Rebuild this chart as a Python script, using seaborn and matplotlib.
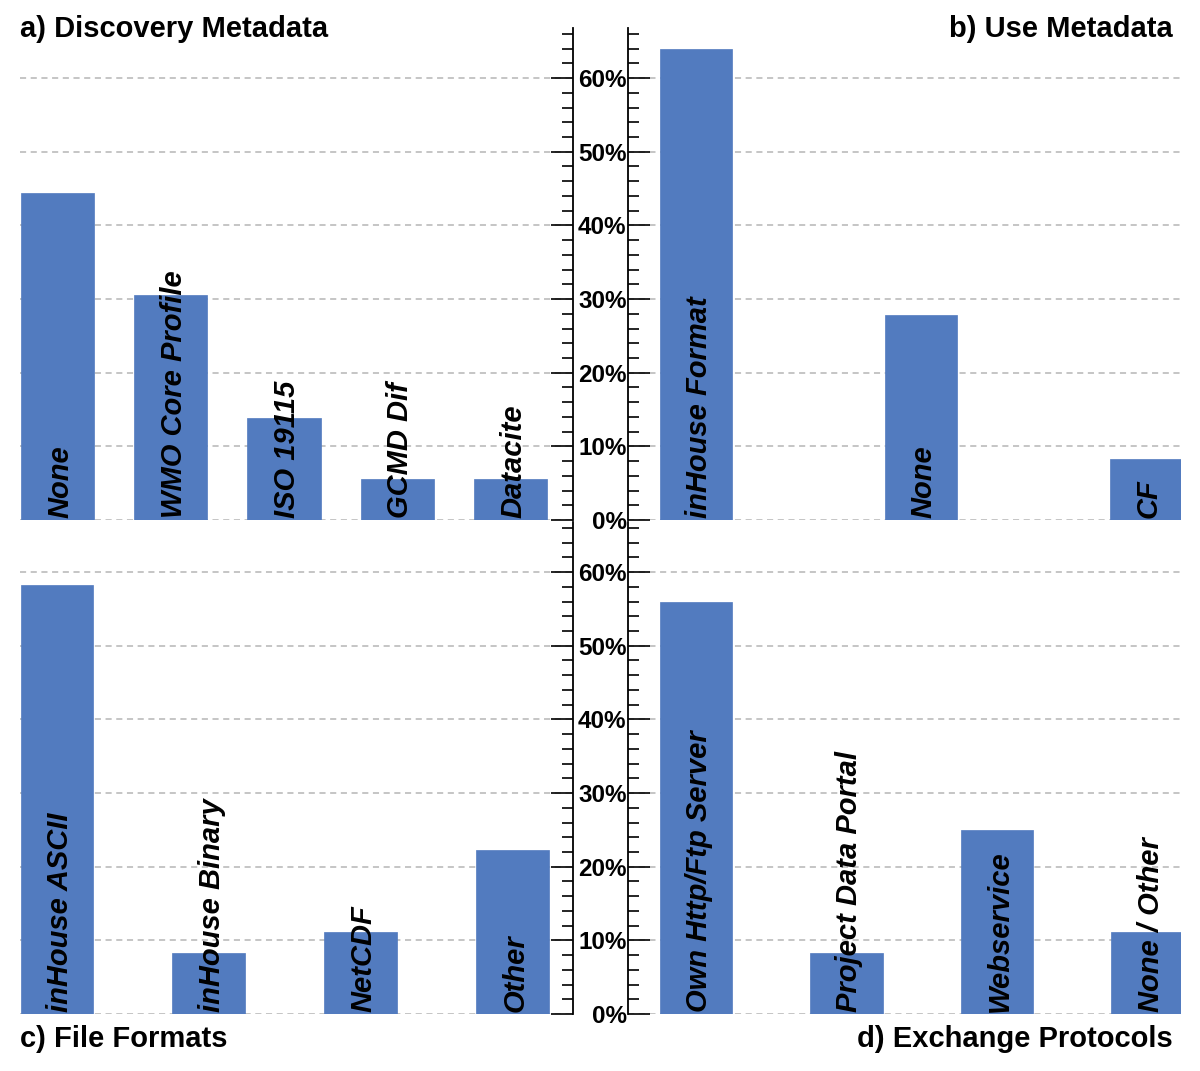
import matplotlib
matplotlib.use('Agg')
import matplotlib.pyplot as plt
import seaborn as sns
from matplotlib.ticker import MultipleLocator, FuncFormatter
from matplotlib.transforms import offset_copy

# data (percent of answers)
disc_cats = ['None', 'WMO Core Profile', 'ISO 19115', 'GCMD Dif', 'Datacite']
disc_vals = [44.4, 30.6, 13.9, 5.6, 5.6]

use_cats = ['inHouse Format', 'None', 'CF']
use_vals = [63.9, 27.8, 8.3]

fmt_cats = ['inHouse ASCII', 'inHouse Binary', 'NetCDF', 'Other']
fmt_vals = [58.3, 8.3, 11.1, 22.2]

exch_cats = ['Own Http/Ftp Server', 'Project Data Portal', 'Webservice', 'None / Other']
exch_vals = [56.0, 8.3, 25.0, 11.1]

sns.set_style('white')
plt.rcParams['font.family'] = ['Liberation Sans', 'DejaVu Sans']
plt.rcParams['text.color'] = 'black'
plt.rcParams['ytick.color'] = 'black'
plt.rcParams['ytick.labelcolor'] = 'black'

BAR = '#527bbf'
W, H = 1200, 1071
fig = plt.figure(figsize=(W / 100, H / 100), dpi=100)


def px_axes(x0, y0, x1, y1):
    return fig.add_axes([x0 / W, 1 - y1 / H, (x1 - x0) / W, (y1 - y0) / H])


ax_a = px_axes(20, 28, 573, 520)
ax_b = px_axes(628, 28, 1181, 520)
ax_c = px_axes(20, 522, 573, 1014)
ax_d = px_axes(628, 522, 1181, 1014)

panels = [
    (ax_a, disc_cats, disc_vals, 0.647, (-0.329, 4.552), 'right'),
    (ax_b, use_cats, use_vals, 0.32, (-0.302, 2.156), 'left'),
    (ax_c, fmt_cats, fmt_vals, 0.48, (-0.244, 3.40), 'right'),
    (ax_d, exch_cats, exch_vals, 0.481, (-0.450, 3.222), 'left'),
]

for ax, cats, vals, w, xl, side in panels:
    sns.barplot(x=cats, y=vals, color=BAR, width=w, saturation=1, ax=ax,
                edgecolor=BAR, linewidth=0.5)
    ax.set_xlim(*xl)
    ax.set_ylim(0, 66.8)
    ax.set_xticks([])
    ax.set_xlabel('')
    ax.set_ylabel('')
    ax.set_axisbelow(True)
    ax.yaxis.set_major_locator(MultipleLocator(10))
    ax.yaxis.set_minor_locator(MultipleLocator(2))
    ax.yaxis.grid(True, which='major', color='#b5b5b5', linestyle=(0, (4, 3)), linewidth=1.1)
    for s in ['top', 'bottom', 'left', 'right']:
        ax.spines[s].set_visible(False)
    ax.spines[side].set_visible(True)
    ax.spines[side].set_linewidth(1.3)
    ax.spines[side].set_color('black')
    if side == 'right':
        ax.yaxis.tick_right()
        ax.tick_params(axis='y', which='both', direction='in', labelright=False, width=1.2)
    else:
        ax.yaxis.tick_left()
        ax.tick_params(axis='y', which='both', direction='in', labelleft=True, width=1.2, pad=1)
        ax.yaxis.set_major_formatter(FuncFormatter(lambda v, p: f'{v:.0f}%'))
        for t in ax.get_yticklabels():
            t.set_fontweight('bold')
            t.set_fontsize(17.5)
    ax.tick_params(axis='y', which='major', length=16)
    ax.tick_params(axis='y', which='minor', length=8)

    # category names written inside the bars
    shifted = offset_copy(ax.transData, fig=fig, x=3, y=2, units='dots')
    for i, c in enumerate(cats):
        ax.text(i, 0, c, rotation=90, rotation_mode='anchor', ha='left', va='center',
                fontsize=21, fontweight='bold', fontstyle='italic', transform=shifted)

title_kw = dict(fontsize=21, fontweight='bold', va='baseline')
fig.text(20 / W, 1 - 37 / H, 'a) Discovery Metadata', ha='left', **title_kw)
fig.text(1173 / W, 1 - 37 / H, 'b) Use Metadata', ha='right', **title_kw)
fig.text(20 / W, 1 - 1047 / H, 'c) File Formats', ha='left', **title_kw)
fig.text(1173 / W, 1 - 1047 / H, 'd) Exchange Protocols', ha='right', **title_kw)

fig.savefig('out.png', dpi=100)
